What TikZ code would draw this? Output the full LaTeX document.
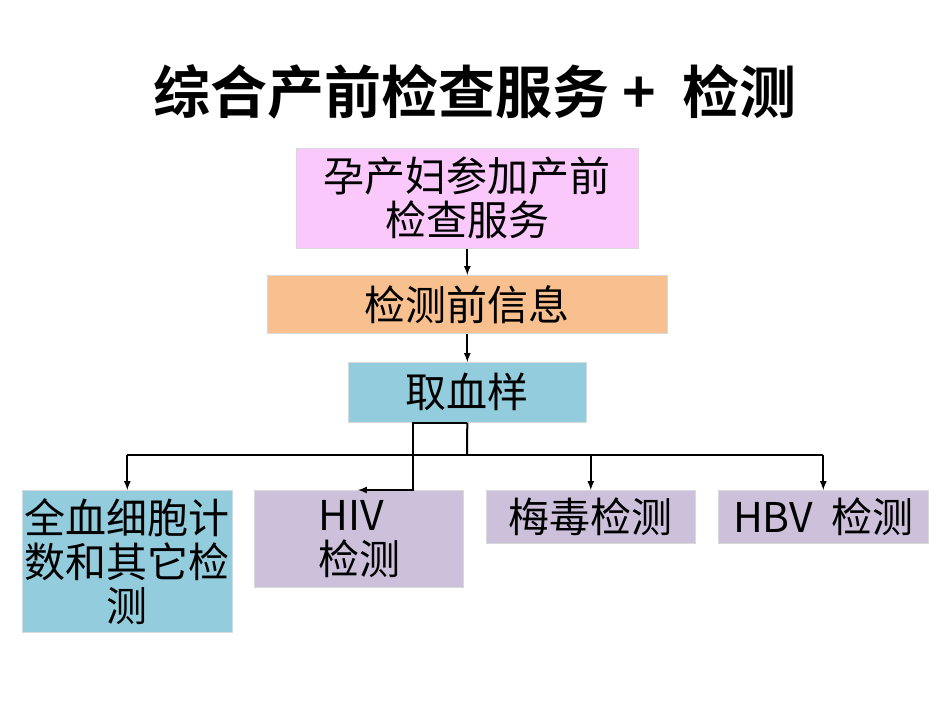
\documentclass[tikz,border=0pt]{standalone}
\usepackage{fontspec}
\setmainfont{Noto Sans CJK SC}[BoldFont={Noto Sans CJK SC Bold}]
\usetikzlibrary{positioning}
\definecolor{pinkbox}{HTML}{FAC8FA}
\definecolor{orangebox}{HTML}{F9C08F}
\definecolor{bluebox}{HTML}{93CDDD}
\definecolor{lilacbox}{HTML}{CCC0DA}
\begin{document}
\begin{tikzpicture}[x=1pt,y=-1pt,
    box/.style={draw=white!85!black, line width=0.6pt, anchor=north west, inner sep=0pt,
      font=\fontsize{41}{44}\selectfont, align=center},
    link/.style={line width=2pt, -latex}
  ]
  \useasboundingbox (0,0) rectangle (950,713);
  % title
  \node (title) at (475,92) {\fontsize{57}{60}\selectfont\bfseries 综合产前检查服务 + \ 检测};
  % boxes
  \node[box, fill=pinkbox, minimum width=342, minimum height=100] (visit) at (296,148) {孕产妇参加产前\\检查服务};
  \node[box, fill=orangebox, minimum width=400, minimum height=58] (info) at (267,275) {检测前信息};
  \node[box, fill=bluebox, minimum width=238, minimum height=60] (blood) at (348,362) {取血样};
  \node[box, fill=bluebox, minimum width=210, minimum height=142] (cbc) at (22,490) {全血细胞计\\数和其它检\\测};
  \node[box, fill=lilacbox, minimum width=209, minimum height=97, align=left, text width=80] (hiv) at (254,490) {\hspace*{0pt}HIV\\检测};
  \node[box, fill=lilacbox, minimum width=209, minimum height=53] (syph) at (486,490) {梅毒检测};
  \node[box, fill=lilacbox, minimum width=210, minimum height=53] (hbv) at (718,490) {HBV\ \ 检测};
  % connectors
  \draw[link] (visit.south) -- (info.north);
  \draw[link] (info.south) -- (blood.north);
  \coordinate (split) at (467,455);
  \coordinate (bend) at (413,490);
  \coordinate (hivend) at (358,490);
  \draw[line width=2pt] (blood.south) -- (split);
  \draw[line width=2pt] (cbc.north |- split) -- (hbv.north |- split);
  \draw[link] (cbc.north |- split) -- (cbc.north);
  \draw[link] (syph.north |- split) -- (syph.north);
  \draw[link] (hbv.north |- split) -- (hbv.north);
  \draw[link] (blood.south) -| (bend) -- (hivend);
\end{tikzpicture}
\end{document}
